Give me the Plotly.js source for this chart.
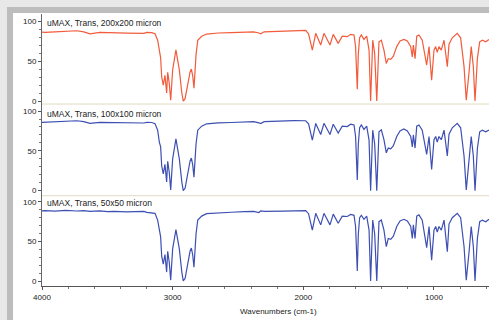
<!DOCTYPE html>
<html>
<head>
<meta charset="utf-8">
<script src="https://cdn.plot.ly/plotly-3.0.1.min.js"></script>
<style>
  html, body { margin:0; padding:0; width:489px; height:320px; overflow:hidden; background:#e8e8e8; }
  #frame { position:absolute; left:7px; top:7px; width:482px; height:313px; background:#bdbdbd; }
  #panel { position:absolute; left:13px; top:13px; width:476px; height:307px; background:#ffffff; }
  #chart { position:absolute; left:0; top:0; width:489px; height:320px; }
</style>
</head>
<body>
<div id="frame"></div>
<div id="panel"></div>
<div id="chart"></div>
<script>
// Wavenumbers (cm-1)
const wavenumbers = [4000, 3977, 3900, 3820, 3734, 3680, 3633, 3557, 3500, 3450, 3350, 3220, 3198, 3160, 3135, 3115, 3102, 3092, 3084, 3072, 3059, 3046, 3038, 3026, 3015, 3005, 3000, 2975, 2949, 2930, 2919, 2905, 2893, 2867, 2857, 2847, 2837, 2821, 2808, 2778, 2740, 2650, 2550, 2454, 2380, 2340, 2326, 2300, 2225, 2150, 2071, 1982, 1960, 1931, 1905, 1867, 1842, 1796, 1771, 1733, 1702, 1664, 1638, 1612, 1600, 1587, 1579, 1569, 1556, 1536, 1515, 1497, 1485, 1469, 1454, 1438, 1421, 1403, 1383, 1365, 1350, 1331, 1311, 1285, 1260, 1230, 1204, 1178, 1166, 1158, 1145, 1132, 1115, 1090, 1056, 1038, 1018, 1000, 987, 975, 962, 944, 923, 898, 885, 860, 822, 796, 770, 753, 730, 715, 699, 686, 668, 650, 630, 604, 579];

// %T, 200x200 micron
const trans200 = [86, 85.8, 86.5, 87, 87.8, 86.5, 84, 85.8, 85.5, 84.6, 84.8, 84.6, 85.8, 85.5, 84, 76, 60, 54, 30, 20, 32, 10, 36, 22, 1, 20, 39, 64, 39, 10, 0, 3, 14, 36, 40, 32, 16, 58, 76, 81, 83.7, 85, 85.5, 86, 86.5, 85, 84, 86.5, 87, 87.5, 88.4, 88.2, 84, 63.7, 84.6, 70, 84.6, 70, 83.3, 72, 81, 80.4, 83.3, 82.5, 68, 14.6, 59.6, 79, 82.5, 77, 81, 63.7, 0, 76, 59.6, 0, 74, 76, 63.7, 47, 53, 52, 56, 68, 75, 77, 75, 68, 55, 70, 53, 81, 82.5, 76, 45, 68, 26, 63.7, 68, 60.8, 68, 63.7, 76, 43, 71, 79, 84.6, 79, 43, 1, 38.7, 68, 43, 0, 53, 74, 76, 74, 77];

// %T, 100x100 micron
const trans100 = [85.8, 86, 86.8, 87.2, 87.8, 86.8, 84.6, 85.8, 85.6, 85, 85.2, 85, 85.8, 85.6, 84.2, 76, 61, 55, 31, 21, 33, 11, 37, 23, 1, 21, 40, 65, 40, 11, 0, 3, 15, 37, 41, 33, 17, 59, 76, 81, 84, 85.2, 85.6, 86, 86.6, 85.2, 84.2, 86.6, 87.2, 87.6, 88, 87.8, 84, 63.6, 84.5, 70.5, 84.6, 70.5, 83.5, 72.5, 81, 80.5, 83.5, 82.5, 68, 13.4, 59, 79, 82.5, 77, 81, 63.5, 0, 76, 59, 0, 74, 76.5, 64, 47.5, 53.5, 52.5, 56.5, 68, 75, 77.5, 75, 68, 55, 70, 53.5, 81, 82.5, 76, 45.5, 68, 26.5, 64, 68, 61, 68, 64, 76, 43.5, 71, 79, 84.5, 79, 43.5, 1, 39, 68, 43.5, 0, 53, 74, 76, 74, 76];

// %T, 50x50 micron
const trans50 = [88.6, 88.8, 88.2, 89.2, 88.4, 88.8, 87.8, 88.4, 87.6, 88, 87.4, 87.8, 86.6, 86.2, 85.5, 77, 62, 56, 32, 22, 34, 12, 38, 24, 2, 22, 41, 65, 41, 12, 1, 4, 16, 38, 42, 34, 18, 60, 77, 82, 85, 86.2, 86.8, 87.5, 88, 86.5, 88.6, 87.8, 88.4, 88.2, 88.6, 88.8, 85, 64.6, 85.5, 71, 85.5, 71, 84.5, 73, 82, 81.5, 84, 83, 69, 13.4, 60, 80, 83, 78, 82, 64.5, 1, 77, 60, 1, 75, 77, 64.5, 43.8, 54, 53, 57, 69, 76, 78, 76, 69, 54, 71, 54, 82, 83.5, 77, 42.5, 69, 27, 64.5, 69, 62, 69, 64.5, 77, 37.5, 72, 80, 85.5, 80, 44, 2, 40, 69, 44, 1, 54, 75, 77, 75, 78];

const sampleLabels = ["uMAX, Trans, 200x200 micron", "uMAX, Trans, 100x100 micron", "uMAX, Trans, 50x50 micron"];
const xTitle = "Wavenumbers (cm-1)";

const FONT = "Liberation Sans, Arial, sans-serif";

const traces = [
  {x: wavenumbers, y: trans200, xaxis: 'x', yaxis: 'y', type: 'scatter', mode: 'lines',
   line: {color: '#f25b3b', width: 1.2}, hoverinfo: 'skip'},
  {x: wavenumbers, y: trans100, xaxis: 'x', yaxis: 'y2', type: 'scatter', mode: 'lines',
   line: {color: '#3d4fb2', width: 1.2}, hoverinfo: 'skip'},
  {x: wavenumbers, y: trans50, xaxis: 'x', yaxis: 'y3', type: 'scatter', mode: 'lines',
   line: {color: '#3d4fb2', width: 1.2}, hoverinfo: 'skip'}
];

function yAxis(domain, range) {
  return {
    domain: domain, range: range, anchor: 'x',
    tickmode: 'array', tickvals: [0, 50, 100], ticktext: ['0', '50', '100'],
    ticks: 'outside', ticklen: 3, tickcolor: '#555', tickwidth: 1,
    minor: {tickmode: 'linear', tick0: 0, dtick: 10, ticks: 'outside', ticklen: 2, tickcolor: '#777'},
    showline: true, linecolor: '#666', linewidth: 1,
    showgrid: false, zeroline: false,
    tickfont: {family: FONT, size: 8, color: '#222'}
  };
}

const layout = {
  width: 489, height: 320,
  margin: {l: 42, r: 0, t: 14, b: 34, pad: 0},
  paper_bgcolor: 'rgba(0,0,0,0)',
  plot_bgcolor: '#ffffff',
  showlegend: false,
  xaxis: {
    domain: [0, 1], range: [4000, 579], anchor: 'y3',
    tickmode: 'linear', tick0: 0, dtick: 1000,
    ticks: 'outside', ticklen: 3, tickcolor: '#555',
    minor: {tickmode: 'linear', tick0: 0, dtick: 200, ticks: 'outside', ticklen: 2, tickcolor: '#777'},
    showline: true, linecolor: '#555', linewidth: 1,
    showgrid: false, zeroline: false,
    tickfont: {family: FONT, size: 8, color: '#222'}
  },
  yaxis: yAxis([0.669, 1], [-3.75, 108.75]),
  yaxis2: yAxis([0.332, 0.669], [-6.3, 108.8]),
  yaxis3: yAxis([0, 0.332], [-5.4, 107.5]),
  shapes: [
    {type: 'line', xref: 'paper', x0: 0, x1: 1, yref: 'y domain', y0: 0, y1: 0,
     line: {color: '#e2dac2', width: 1}},
    {type: 'line', xref: 'paper', x0: 0, x1: 1, yref: 'y2 domain', y0: 0, y1: 0,
     line: {color: '#e2dac2', width: 1}}
  ],
  annotations: [
    {text: sampleLabels[0], xref: 'paper', x: 0.007, xanchor: 'left', yref: 'y', y: 97.9, yanchor: 'middle',
     showarrow: false, font: {family: FONT, size: 8.5, color: '#222'}},
    {text: sampleLabels[1], xref: 'paper', x: 0.007, xanchor: 'left', yref: 'y2', y: 96.2, yanchor: 'middle',
     showarrow: false, font: {family: FONT, size: 8.5, color: '#222'}},
    {text: sampleLabels[2], xref: 'paper', x: 0.007, xanchor: 'left', yref: 'y3', y: 98, yanchor: 'middle',
     showarrow: false, font: {family: FONT, size: 8.5, color: '#222'}},
    {text: xTitle, xref: 'paper', x: 0.528, xanchor: 'center', yref: 'paper', y: -0.0945, yanchor: 'middle',
     showarrow: false, font: {family: FONT, size: 8, color: '#222'}}
  ]
};

Plotly.newPlot('chart', traces, layout, {displayModeBar: false, staticPlot: true});
</script>
</body>
</html>
